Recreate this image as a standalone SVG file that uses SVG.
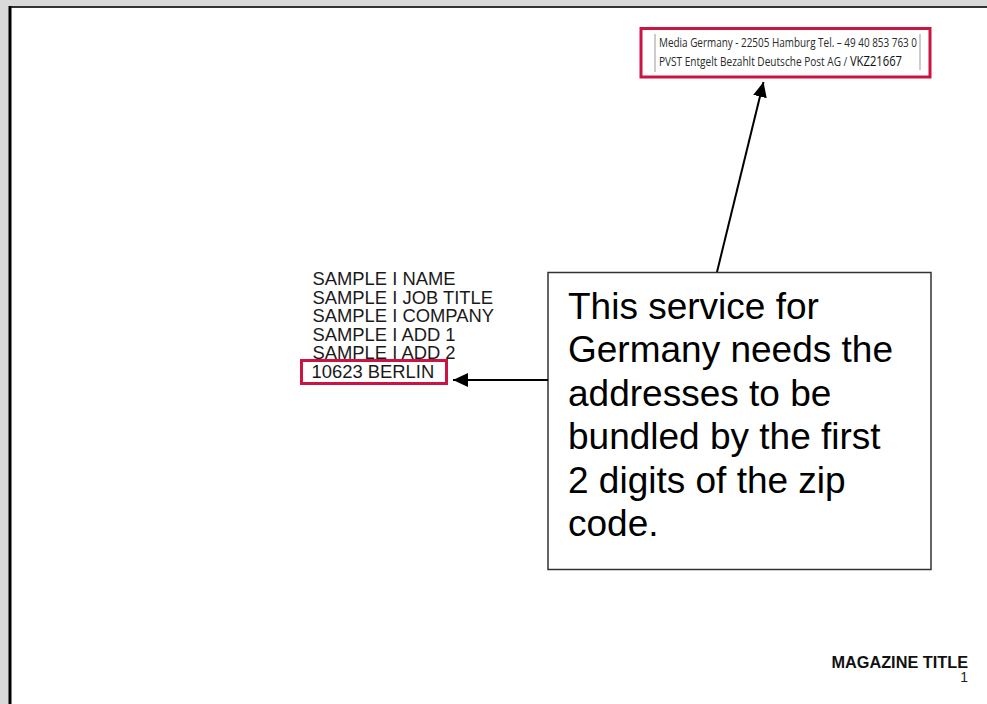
<svg xmlns="http://www.w3.org/2000/svg" width="987" height="704" viewBox="0 0 987 704">
  <style>
    .addr { font-family: "Liberation Sans", Arial, sans-serif; font-size: 18.4px; fill: #1a1a1a; }
    .call { font-family: "Liberation Sans", Arial, sans-serif; font-size: 37px; fill: #000; }
    .stamp { font-family: "Open Sans", "Noto Sans", sans-serif; font-size: 13px; fill: #2a2a2a; }
    .hl { fill: none; stroke: #cc1443; stroke-width: 3; }
    .conn { stroke: #000; stroke-width: 2; fill: none; }
  </style>
  <defs>
    <marker id="head" markerUnits="userSpaceOnUse" markerWidth="16" markerHeight="14" refX="15" refY="7" orient="auto">
      <path d="M0,0 L15,7 L0,14 Z" fill="#000"/>
    </marker>
  </defs>

  <!-- page background and sheet -->
  <rect x="0" y="0" width="987" height="704" fill="#d9d9d9"/>
  <rect x="10" y="7" width="977" height="697" fill="#fff"/>
  <line x1="9" y1="7" x2="987" y2="7" stroke="#333" stroke-width="2"/>
  <line x1="10" y1="6" x2="10" y2="704" stroke="#000" stroke-width="3"/>

  <!-- postage imprint -->
  <g id="imprint">
    <rect x="641" y="28.5" width="289" height="48.5" class="hl"/>
    <line x1="655" y1="34" x2="655" y2="72" stroke="#999" stroke-width="1"/>
    <line x1="920" y1="34" x2="920" y2="70" stroke="#999" stroke-width="1"/>
    <text class="stamp" x="659" y="46.5" textLength="258" lengthAdjust="spacingAndGlyphs">Media Germany - 22505 Hamburg Tel. – 49 40 853 763 0</text>
    <text class="stamp" x="659" y="66" textLength="243" lengthAdjust="spacingAndGlyphs">PVST Entgelt Bezahlt Deutsche Post AG / <tspan font-size="14.5px" fill="#111">VKZ21667</tspan></text>
  </g>

  <!-- address block -->
  <g id="address">
    <text class="addr" x="312.5" y="285">SAMPLE I NAME</text>
    <text class="addr" x="312.5" y="303.5">SAMPLE I JOB TITLE</text>
    <text class="addr" x="312.5" y="322">SAMPLE I COMPANY</text>
    <text class="addr" x="312.5" y="340.5">SAMPLE I ADD 1</text>
    <text class="addr" x="312.5" y="359">SAMPLE I ADD 2</text>
  </g>

  <g id="zip">
    <rect x="301.5" y="360.5" width="145" height="23" fill="#fff" class="hl"/>
    <text class="addr" x="311.5" y="378">10623 BERLIN</text>
  </g>

  <!-- callout -->
  <g id="note">
    <rect x="548" y="272.5" width="383" height="297" fill="#fff" stroke="#333" stroke-width="1.5"/>
    <text class="call" x="568" y="319">This service for</text>
    <text class="call" x="568" y="362">Germany needs the</text>
    <text class="call" x="568" y="405.5">addresses to be</text>
    <text class="call" x="568" y="449">bundled by the first</text>
    <text class="call" x="568" y="492.5">2 digits of the zip</text>
    <text class="call" x="568" y="536">code.</text>
  </g>

  <!-- connectors -->
  <g id="connectors">
    <line class="conn" x1="717" y1="272" x2="763.5" y2="82" marker-end="url(#head)"/>
    <line class="conn" x1="548" y1="380" x2="453" y2="380" marker-end="url(#head)"/>
  </g>

  <!-- footer -->
  <g id="footer">
    <text x="968" y="667.5" text-anchor="end" font-family="Liberation Sans, Arial, sans-serif" font-size="16.3px" font-weight="bold" fill="#111">MAGAZINE TITLE</text>
    <text x="968" y="682" text-anchor="end" font-family="Liberation Sans, Arial, sans-serif" font-size="14px" fill="#222">1</text>
  </g>
</svg>
